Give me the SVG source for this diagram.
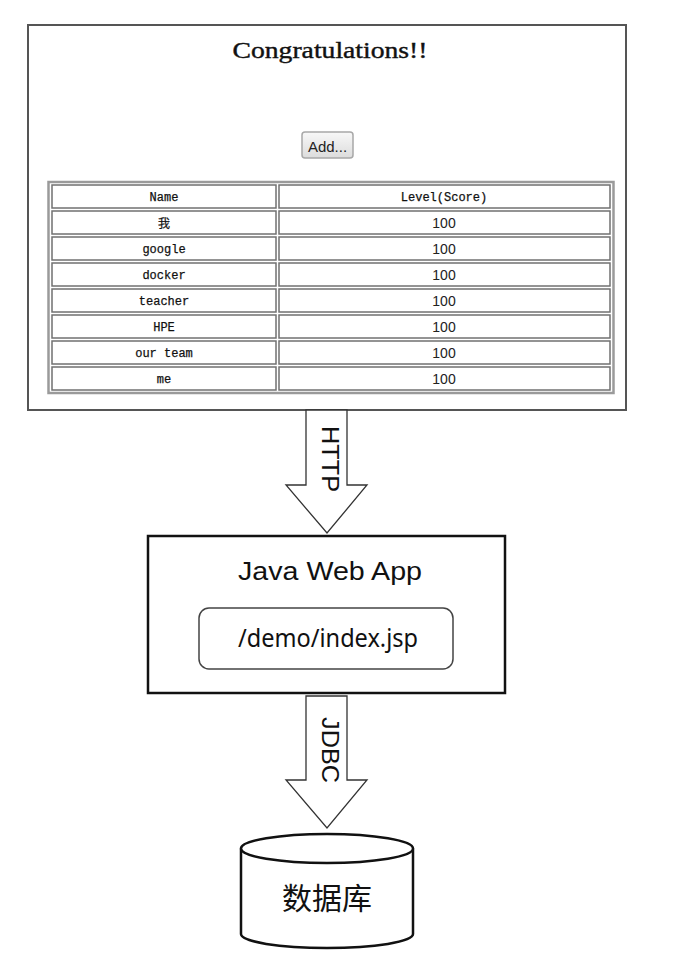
<svg xmlns="http://www.w3.org/2000/svg" width="676" height="958" viewBox="0 0 676 958">
<defs>
<linearGradient id="btn" x1="0" y1="0" x2="0" y2="1">
<stop offset="0" stop-color="#f8f8f8"/>
<stop offset="1" stop-color="#dcdcdc"/>
</linearGradient>
</defs>
<style>
.mono{font-family:"Liberation Mono","DejaVu Sans Mono","Noto Sans CJK SC",monospace;font-size:12px;fill:#111;text-anchor:middle;stroke:#111;stroke-width:0.25}
.num{font-family:"Liberation Sans",Arial,sans-serif;font-size:14px;fill:#222;text-anchor:middle}
.cell{fill:#fff;stroke:#707070;stroke-width:1.5}
.arrow{fill:#fff;stroke:#333;stroke-width:1.3}
.lbl{font-family:"Liberation Sans",Arial,sans-serif;font-size:24px;fill:#111;text-anchor:middle}
</style>
<rect width="676" height="958" fill="#fff"/>

<g id="browser-page">
<rect x="28" y="25" width="598" height="385" fill="#fff" stroke="#555" stroke-width="2"/>
<text x="330" y="58" font-family="'Liberation Serif','DejaVu Serif',serif" font-size="23" fill="#111" stroke="#111" stroke-width="0.4" text-anchor="middle" textLength="195" lengthAdjust="spacingAndGlyphs">Congratulations!!</text>
<g id="add-button">
<rect x="302" y="132" width="51" height="26" rx="3" fill="url(#btn)" stroke="#a8a8a8" stroke-width="1.5"/>
<text x="327.5" y="152" font-family="'Liberation Sans',Arial,sans-serif" font-size="15" fill="#222" text-anchor="middle">Add...</text>
</g>
<g id="score-table">
<rect x="48.5" y="182" width="565" height="211" fill="#fff" stroke="#9a9a9a" stroke-width="2.5"/>
<rect x="52" y="185" width="224" height="23" class="cell"/><rect x="279" y="185" width="331" height="23" class="cell"/>
<rect x="52" y="211" width="224" height="23" class="cell"/><rect x="279" y="211" width="331" height="23" class="cell"/>
<rect x="52" y="237" width="224" height="23" class="cell"/><rect x="279" y="237" width="331" height="23" class="cell"/>
<rect x="52" y="263" width="224" height="23" class="cell"/><rect x="279" y="263" width="331" height="23" class="cell"/>
<rect x="52" y="289" width="224" height="23" class="cell"/><rect x="279" y="289" width="331" height="23" class="cell"/>
<rect x="52" y="315" width="224" height="23" class="cell"/><rect x="279" y="315" width="331" height="23" class="cell"/>
<rect x="52" y="341" width="224" height="23" class="cell"/><rect x="279" y="341" width="331" height="23" class="cell"/>
<rect x="52" y="367" width="224" height="23" class="cell"/><rect x="279" y="367" width="331" height="23" class="cell"/>
<text class="mono" x="164" y="201">Name</text><text class="mono" x="444" y="201">Level(Score)</text>
<text class="mono" x="164" y="228" font-size="15">我</text><text class="num" x="444" y="228">100</text>
<text class="mono" x="164" y="253">google</text><text class="num" x="444" y="254">100</text>
<text class="mono" x="164" y="279">docker</text><text class="num" x="444" y="280">100</text>
<text class="mono" x="164" y="305">teacher</text><text class="num" x="444" y="306">100</text>
<text class="mono" x="164" y="331">HPE</text><text class="num" x="444" y="332">100</text>
<text class="mono" x="164" y="357">our team</text><text class="num" x="444" y="358">100</text>
<text class="mono" x="164" y="383">me</text><text class="num" x="444" y="384">100</text>
</g>
</g>

<g id="java-web-app">
<rect x="148" y="536" width="357" height="157" fill="#fff" stroke="#111" stroke-width="2.5"/>
<text x="330" y="580" font-family="'Liberation Sans',Arial,sans-serif" font-size="25" fill="#111" text-anchor="middle" textLength="184" lengthAdjust="spacingAndGlyphs">Java Web App</text>
</g>
<g id="index-jsp">
<rect x="199" y="608" width="254" height="61" rx="10" fill="#fff" stroke="#444" stroke-width="1.5"/>
<text x="328" y="647" font-family="'Noto Sans','Open Sans',sans-serif" font-size="26" fill="#111" text-anchor="middle" textLength="180" lengthAdjust="spacingAndGlyphs">/demo/index.jsp</text>
</g>

<g id="database">
<path d="M241,848.5 L241,934 A86,14 0 0 0 413,934 L413,848.5" fill="#fff" stroke="#111" stroke-width="2.5"/>
<ellipse cx="327" cy="848.5" rx="86" ry="14.5" fill="#fff" stroke="#111" stroke-width="2.5"/>
<text x="327" y="909" font-family="'Noto Sans CJK SC','Noto Sans',sans-serif" font-size="30" fill="#111" text-anchor="middle">数据库</text>
</g>

<g id="connectors">
<g id="http">
<polygon class="arrow" points="306,410 347,410 347,485 367,485 327,533 286,485 306,485"/>
<text class="lbl" transform="translate(330,459) rotate(90)" x="0" y="8.5" textLength="66" lengthAdjust="spacingAndGlyphs">HTTP</text>
</g>
<g id="jdbc">
<polygon class="arrow" points="306,696 347,696 347,780 367,780 327,828 286,780 306,780"/>
<text class="lbl" transform="translate(330,750) rotate(90)" x="0" y="8.5" textLength="66" lengthAdjust="spacingAndGlyphs">JDBC</text>
</g>
</g>
</svg>
